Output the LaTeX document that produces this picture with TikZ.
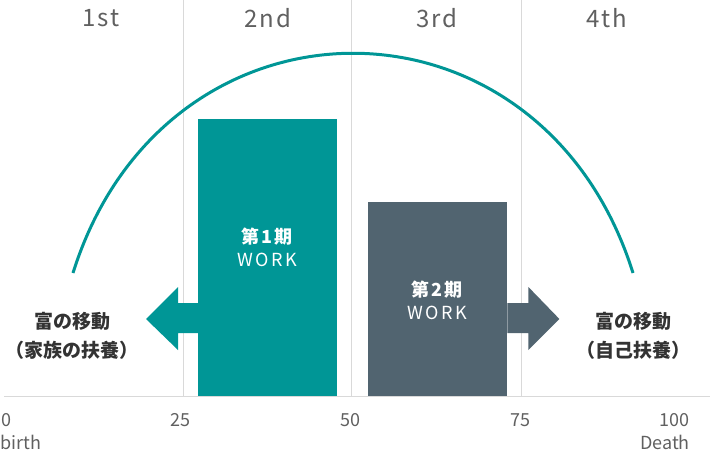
\documentclass[tikz,border=0pt]{standalone}
\usepackage{fontspec}
\setmainfont{Noto Sans CJK JP}
\usetikzlibrary{positioning,calc}
\definecolor{tealmain}{RGB}{0,150,150}
\definecolor{slategray}{RGB}{81,100,112}
\definecolor{gridgray}{RGB}{217,217,217}
\definecolor{labelgray}{RGB}{96,96,96}
\definecolor{textdark}{RGB}{51,51,51}

\begin{document}
\begin{tikzpicture}[
    x=1pt, y=-1pt,
    every node/.style={font=\fontsize{18}{21}\selectfont, text=labelgray, inner sep=0pt},
    grid/.style={draw=gridgray, line width=1pt},
    stage/.style={font=\fontsize{24}{26}\selectfont\addfontfeature{LetterSpace=8}},
    work/.style={anchor=south west, minimum width=139, minimum height=#1},
    worklbl/.style={align=center, text=white,
                    font=\fontsize{18}{23}\selectfont\addfontfeature{LetterSpace=14}},
    flow/.style={align=center, text=textdark, font=\fontsize{19}{29}\selectfont\bfseries},
    axislbl/.style={anchor=center}
  ]
  \useasboundingbox (0,0) rectangle (710,455);

  % grid and base line
  \foreach \x in {183,351.5,521}
    \draw[grid] (\x,0) -- (\x,396);
  \draw[grid] (4,396) -- (710,396);

  % the two working periods
  \node[work=277, fill=tealmain]  (work1) at (198,396) {};
  \node[work=194, fill=slategray] (work2) at (368,396) {};

  % wealth transfer arrows
  \fill[tealmain] ([yshift=93]work1.south west) -- ++(-20,0) -- ++(0,-16)
    -- ++(-32,32) -- ++(32,31) -- ++(0,-17) -- ++(20,0) -- cycle;
  \fill[slategray] ([yshift=93]work2.south east) -- ++(21,0) -- ++(0,-16)
    -- ++(31,32) -- ++(-31,31) -- ++(0,-17) -- ++(-21,0) -- cycle;

  % income curve
  \coordinate (rise) at (73,273);
  \coordinate (fall) at (633,273);
  \draw[tealmain, line width=3pt] (rise) .. controls (165,-20) and (541,-20) .. (fall);

  % stages
  \node[stage] (s1) at (101,18) {1st};
  \node[stage] (s2) at (268,18) {2nd};
  \node[stage] (s3) at (437,18) {3rd};
  \node[stage] (s4) at (607,18) {4th};

  \node[worklbl] (w1lbl) at (267,247) {\bfseries 第1期\\WORK};
  \node[worklbl] (w2lbl) at (437,300) {\bfseries 第2期\\WORK};

  \node[flow] (family) at (72,336) {富の移動\\（家族の扶養）};
  \node[flow] (self)   at (633,336) {富の移動\\（自己扶養）};

  % age axis
  \node[axislbl, anchor=west] (a0) at (1,420) {0};
  \node[axislbl] (a25) at (180,420) {25};
  \node[axislbl] (a50) at (350,420) {50};
  \node[axislbl] (a75) at (520,420) {75};
  \node[axislbl, anchor=east] (a100) at (690,420) {100};
  \node[axislbl, anchor=west] (birth) at (0,442) {birth};
  \node[axislbl, anchor=east] (death) at (690,442) {Death};
\end{tikzpicture}
\end{document}
